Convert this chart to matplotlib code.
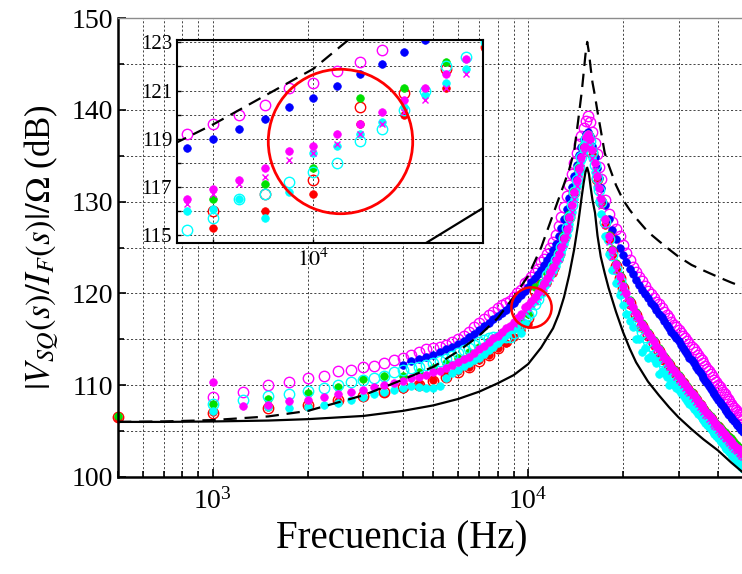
import numpy as np
import matplotlib.pyplot as plt
from matplotlib.ticker import LogLocator, NullFormatter, FixedLocator

nan = np.nan
plt.rcParams['font.family'] = ['Liberation Serif', 'DejaVu Serif']
plt.rcParams['mathtext.fontset'] = 'stix'

# frecuencias de medida (Hz)
freq = ([500]
        + [1000, 1250, 1500, 1750, 2000, 2250, 2500, 2750, 3000, 3250, 3500, 3750,
           4000, 4250, 4500, 4750, 5000, 5250, 5500, 5750, 6000, 6250, 6500, 6750,
           7000, 7250, 7500, 7750, 8000, 8250, 8500]
        + [8750, 9000, 9250, 9500, 9750, 10000, 10250, 10500, 10750, 11000, 11250, 11500, 11750]
        + [12000, 12250, 12500, 12750, 13000, 13250, 13500, 13750, 14000, 14250, 14500,
           14750, 15000, 15250, 15500, 15750, 16000, 16250, 16500, 16750, 17000]
        + [17500, 18000, 18500, 19000, 19500, 20000]
        + [20500, 21000, 21500, 22000, 22500, 23000, 23500, 24000, 24500, 25000,
           25500, 26000, 26500, 27000, 27500, 28000, 28500, 29000, 29500, 30000,
           30500, 31000, 31500, 32000, 32500, 33000, 33500, 34000, 34500, 35000,
           35500, 36000, 36500, 37000, 37500, 38000, 38500, 39000, 39500, 40000,
           40500, 41000, 41500, 42000, 42500, 43000, 43500, 44000, 44500, 45000,
           45500, 46000, 46500, 47000, 47500, 48000])

# medidas (dB)
mag_open = ([nan]
            + [108.7, 109.3, 110.0, 110.4, 110.8, 111.05, 111.5, 111.7, 111.95, 112.1, 112.4, 112.75,
               113.0, 113.3, 113.6, 113.9, 114.0, 114.2, 114.4, 114.7, 115.0, 115.4, 115.8, 116.3,
               116.8, 117.2, 117.6, 118.0, 118.4, 118.7, 119.0]
            + [119.2, 119.6, 120.0, 120.4, 121.1, 121.3, 121.8, 122.2, 122.7, 123.4, 123.8, 124.3, 124.9]
            + [125.6, 126.4, 127.3, 128.3, 129.4, 130.6, 131.8, 133.0, 134.2, 135.3, 136.3,
               137.2, 138.0, 138.8, 139.3, 138.7, 137.6, 136.4, 135.2, 133.8, 132.5]
            + [130.2, 128.7, 127.8, 127.0, 126.2, 125.3]
            + [124.4, 123.6, 122.9, 122.3, 121.8, 121.3, 120.8, 120.3, 119.9, 119.5,
               119.1, 118.8, 118.4, 118.0, 117.6, 117.3, 116.9, 116.6, 116.3, 116.0,
               115.7, 115.4, 115.1, 114.8, 114.5, 114.2, 113.9, 113.6, 113.3, 113.0,
               112.7, 112.4, 112.1, 111.8, 111.5, 111.2, 110.9, 110.6, 110.3, 110.0,
               109.75, 109.5, 109.25, 109.0, 108.75, 108.5, 108.25, 108.0, 107.75, 107.5,
               107.3, 107.1, 106.9, 106.7, 106.5, 106.3])

blue = ([nan]
        + [nan] * 12
        + [112.2, 112.6, 112.8, 113.1, 113.3, 113.6, 113.9, 114.2, 114.5, 114.8, 115.2, 115.6,
           116.0, 116.4, 116.8, 117.2, 117.5, 117.9, 118.2]
        + [118.6, 119.0, 119.4, 119.8, 120.3, 120.7, 121.2, 121.7, 122.1, 122.6, 123.1, 123.6, 124.1]
        + [124.7, 125.4, 126.2, 127.1, 128.1, 129.2, 130.4, 131.6, 132.8, 134.0, 135.1,
           136.0, 136.8, 137.4, 137.6, 137.1, 136.1, 134.9, 133.7, 132.6, 131.5]
        + [129.6, 128.1, 126.9, 125.9, 125.0, 124.2]
        + [123.4, 122.7, 122.1, 121.5, 120.9, 120.4, 119.9, 119.5, 119.0, 118.6,
           118.2, 117.8, 117.4, 117.0, 116.6, 116.2, 115.8, 115.5, 115.1, 114.8,
           114.4, 114.1, 113.7, 113.4, 113.0, 112.7, 112.4, 112.0, 111.7, 111.4,
           111.1, 110.8, 110.5, 110.2, 109.9, 109.6, 109.3, 109.0, 108.7, 108.4,
           108.2, 107.9, 107.7, 107.4, 107.2, 106.9, 106.7, 106.5, 106.3, 106.1,
           105.9, 105.7, 105.5, 105.3, 105.1, 104.9])

mag_fill = ([nan]
            + [110.4, 107.7, 107.8, 108.3, 108.4, 108.7, 109.0, 109.3, 109.5, 109.8, 110.0, 110.2,
               110.5, 110.75, 110.9, 111.1, 111.4, 111.6, 111.9, 112.2, 112.5, 112.8, 113.1, 113.5,
               113.9, 114.3, 114.7, 115.1, 115.4, 115.8, 116.2]
            + [116.5, 116.9, 117.3, 117.8, 118.5, 118.7, 119.2, 119.6, 120.1, 120.6, 121.1, 121.7, 122.3]
            + [122.9, 123.6, 124.3, 125.1, 126.0, 127.0, 128.3, 129.6, 131.0, 132.4, 133.7,
               134.9, 136.0, 137.0, 137.4, 136.8, 135.6, 134.2, 132.8, 131.5, 130.3]
            + [128.1, 126.3, 124.7, 123.2, 121.9, 120.8]
            + [120.0, 119.2, 118.5, 117.9, 117.3, 116.7, 116.2, 115.7, 115.2, 114.8,
               114.3, 113.9, 113.5, 113.1, 112.7, 112.4, 112.0, 111.7, 111.3, 111.0,
               110.7, 110.4, 110.1, 109.8, 109.5, 109.2, 108.9, 108.6, 108.3, 108.0,
               107.8, 107.5, 107.2, 107.0, 106.7, 106.5, 106.2, 106.0, 105.8, 105.5,
               105.3, 105.1, 104.9, 104.7, 104.5, 104.3, 104.1, 103.9, 103.7, 103.5,
               103.3, 103.2, 103.0, 102.9, 102.7, 102.6])

mag_x = ([nan]
         + [nan] * 31
         + [116.3, 116.7, 117.1, 117.4, 118.1, 118.4, 118.8, 119.2, 119.6, 120.1, 120.6, 121.1, 121.7]
         + [122.3, 123.0, 123.7, 124.5, 125.4, 126.4, 127.6, 128.9, 130.3, 131.7, 133.0,
            134.2, 135.3, 136.2, 136.6, 136.0, 134.8, 133.4, 132.0, 130.7, 129.5]
         + [127.4, 125.6, 124.0, 122.6, 121.3, 120.2]
         + [119.5, 118.7, 118.0, 117.4, 116.8, 116.3, 115.8, 115.3, 114.8, 114.4,
            113.9, 113.5, 113.1, 112.7, 112.3, 112.0, 111.6, 111.3, 110.9, 110.6,
            110.3, 110.0, 109.7, 109.4, 109.1, 108.8, 108.5, 108.2, 107.9, 107.6,
            107.4, 107.1, 106.8, 106.6, 106.3, 106.1, 105.8, 105.6, 105.4, 105.1,
            104.9, 104.7, 104.5, 104.3, 104.1, 103.9, 103.7, 103.5, 103.3, 103.1,
            102.9, 102.8, 102.6, 102.5, 102.3, 102.2])

cyan_fill = ([nan]
             + [107.2, nan, 107.6, 107.5, 107.6, 107.8, 108.1, 108.4, 108.7, 109.0, 109.3, 109.5,
                109.7, 109.9, 109.8, 109.7, 109.7, 109.9, 110.8, 111.3, 111.7, 112.1, 112.4, 112.7,
                113.0, 113.4, 113.8, 114.2, 114.6, 115.0, 115.5]
             + [116.0, 116.1, 116.5, 115.7, 116.8, 118.4, 118.7, 119.2, 119.7, 120.3, 120.8, 121.3, 121.9]
             + [122.4, 123.0, 123.7, 124.5, 125.4, 126.4, 127.6, 128.9, 130.3, 131.7, 133.1,
                134.4, 135.6, 136.6, 137.0, 136.2, 134.8, 133.2, 131.6, 130.1, 128.7]
             + [126.3, 124.3, 122.6, 121.1, 119.8, 118.7]
             + [117.8, 117.0, 116.3, 115.0, 115.0, 113.6, 114.0, 113.0, 113.2, 112.8,
                112.4, 111.2, 111.6, 111.3, 110.9, 110.0, 110.3, 110.0, 109.7, 109.5,
                109.2, 108.9, 108.6, 108.3, 108.0, 107.7, 107.4, 107.2, 106.9, 106.7,
                106.4, 106.2, 105.9, 105.7, 105.4, 105.2, 105.0, 104.7, 104.5, 104.3,
                104.0, 103.8, 103.6, 103.3, 103.1, 102.9, 102.7, 102.5, 102.3, 102.1,
                101.9, 101.7, 101.5, 101.3, 101.1, 100.9])

cyan_open = ([nan]
             + [107.9, 108.4, 108.8, 109.0, 109.4, 109.65, 110.0, 110.4, 110.6, 110.75, 111.0, 111.4,
                111.65, 111.85, 112.0, 112.2, 112.4, 112.6, 112.9, 113.2, 113.5, 113.8, 114.1, 114.4,
                114.7, 114.9, 115.1, 115.2, 115.3, 115.4, 115.3]
             + [115.2, 115.7, 116.5, 116.7, 117.2, 117.6, 118.0, 118.9, 119.4, 120.2, 121.0, 122.0, 122.4]
             + [123.0, 123.6, 124.3, 125.1, 126.0, 127.1, 128.3, 129.6, 131.0, 132.4, 133.7,
                134.9, 135.9, 136.8, 137.2, 136.6, 135.4, 134.0, 132.6, 131.3, 130.0]
             + [127.8, 125.9, 124.2, 122.7, 121.4, 120.2]
             + [119.3, 118.5, 117.7, 117.0, 116.4, 115.8, 115.3, 114.8, 114.3, 113.9,
                113.4, 113.0, 112.6, 112.2, 111.8, 111.5, 111.1, 110.8, 110.4, 110.1,
                109.8, 109.5, 109.2, 108.9, 108.6, 108.3, 108.0, 107.7, 107.4, 107.1,
                106.9, 106.6, 106.3, 106.1, 105.8, 105.6, 105.3, 105.1, 104.9, 104.6,
                104.4, 104.2, 104.0, 103.8, 103.6, 103.4, 103.2, 103.0, 102.8, 102.6,
                102.4, 102.2, 102.0, 101.8, 101.7, 101.5])

green = ([106.6]
         + [107.9, nan, 108.5, nan, 109.2, nan, 109.8, nan, 110.7, nan, 111.0, nan,
            111.0, nan, 111.4, nan, 111.9, nan, 112.4, nan, 113.0, nan, 113.6, nan,
            114.2, nan, 114.8, nan, 115.4, nan, 116.0]
         + [nan, 116.5, nan, 117.1, nan, 117.8, nan, 120.7, nan, 121.1, nan, 122.2, nan]
         + [123.1, nan, 124.6, nan, 126.4, nan, 128.6, nan, 131.3, nan, 134.0,
            nan, 136.3, nan, 137.4, nan, 135.6, nan, 132.8, nan, 130.3]
         + [128.1, 126.4, 124.8, 123.3, 122.0, 120.9]
         + [nan, 119.3, nan, 118.0, nan, 116.8, nan, 115.8, nan, 114.9,
            nan, 114.0, nan, 113.2, nan, 112.5, nan, 111.8, nan, 111.1,
            nan, 110.5, nan, 109.9, nan, 109.3, nan, 108.7, nan, 108.1,
            nan, 107.6, nan, 107.1, nan, 106.6, nan, 106.1, nan, 105.7,
            nan, 105.3, nan, 104.9, nan, 104.5, nan, 104.2, nan, 103.8,
            nan, 103.5, nan, 103.2, nan, 102.9])

red_open = ([106.5]
            + [107.0, nan, 107.5, nan, 107.8, nan, 108.4, nan, 108.8, nan, 109.3, nan,
               109.85, nan, 110.0, nan, 110.5, nan, 110.9, nan, 111.4, nan, 112.0, nan,
               112.6, nan, 113.3, nan, 114.0, nan, 114.8]
            + [nan, 116.0, nan, 116.7, nan, 117.3, nan, 120.3, nan, 120.9, nan, 121.9, nan]
            + [122.8, nan, 124.3, nan, 126.1, nan, 128.3, nan, 131.0, nan, 133.7,
               nan, 136.0, nan, 137.1, nan, 135.3, nan, 132.5, nan, 130.0]
            + [127.8, 126.1, 124.5, 123.0, 121.7, 120.6]
            + [nan, 119.0, nan, 117.7, nan, 116.5, nan, 115.5, nan, 114.6,
               nan, 113.7, nan, 112.9, nan, 112.2, nan, 111.5, nan, 110.8,
               nan, 110.2, nan, 109.6, nan, 109.0, nan, 108.4, nan, 107.8,
               nan, 107.3, nan, 106.8, nan, 106.3, nan, 105.8, nan, 105.4,
               nan, 105.0, nan, 104.6, nan, 104.2, nan, 103.9, nan, 103.5,
               nan, 103.2, nan, 102.9, nan, 102.6])

red_fill = ([106.4]
            + [107.1, nan, 107.6, nan, 107.7, nan, 108.3, nan, 108.7, nan, 109.2, nan,
               109.6, nan, 110.1, nan, 110.6, nan, 111.1, nan, 111.6, nan, 112.0, nan,
               112.7, nan, 113.3, nan, 114.0, nan, 114.6]
            + [nan, 115.3, nan, 116.0, nan, 116.7, nan, 119.6, nan, 120.0, nan, 121.1, nan]
            + [122.2, nan, 123.8, nan, 125.7, nan, 128.0, nan, 130.7, nan, 133.4,
               nan, 135.8, nan, 137.0, nan, 135.1, nan, 132.2, nan, 129.7]
            + [127.5, 125.8, 124.2, 122.7, 121.4, 120.3]
            + [nan, 118.7, nan, 117.4, nan, 116.2, nan, 115.2, nan, 114.3,
               nan, 113.4, nan, 112.6, nan, 111.9, nan, 111.2, nan, 110.5,
               nan, 109.9, nan, 109.3, nan, 108.7, nan, 108.1, nan, 107.5,
               nan, 107.0, nan, 106.5, nan, 106.0, nan, 105.5, nan, 105.1,
               nan, 104.7, nan, 104.3, nan, 103.9, nan, 103.6, nan, 103.2,
               nan, 102.9, nan, 102.6, nan, 102.3])

# modelos teoricos
freq_mod = [500, 700, 1000, 1500, 2000, 3000, 4000, 5000, 6000, 7000, 8000, 9000, 10000,
            11000, 12000, 12500, 13000, 13500, 14000, 14400, 14800, 15000, 15200, 15400,
            15600, 15800, 16000, 16300, 16600, 17000, 17500, 18000, 19000, 20000, 21000,
            22000, 24000, 26000, 28000, 30000, 33000, 36000, 40000, 44000, 48000]
solid = [106.0, 106.0, 106.05, 106.15, 106.3, 106.65, 107.2, 107.8, 108.5, 109.3, 110.2,
         111.1, 112.3, 114.1, 116.2, 117.7, 119.6, 122.0, 124.8, 127.5, 130.6, 132.0, 133.2,
         133.7, 133.0, 131.5, 130.2, 128.8, 126.3, 124.0, 122.2, 120.6, 118.0, 115.8, 114.0,
         112.5, 110.4, 108.9, 107.6, 106.5, 105.2, 104.1, 102.9, 101.6, 100.5]
dashed = [106.0, 106.05, 106.2, 106.6, 107.2, 108.9, 110.6, 112.0, 113.7, 115.4, 117.3,
          119.6, 121.9, 125.0, 128.6, 130.3, 131.9, 133.5, 135.5, 138.7, 142.0, 144.0, 146.0,
          147.4, 146.2, 144.5, 143.0, 141.5, 139.8, 137.8, 135.3, 134.0, 131.8, 130.2, 129.1,
          128.2, 126.7, 125.7, 124.8, 124.0, 123.1, 122.5, 121.8, 121.2, 120.7]

# zonas marcadas (circulo rojo)
circ_main = (10250, 118.5)
circ_zoom = (10280, 118.9)

series = [
    (mag_open, dict(marker='o', ms=7.5, mfc='none', mec='magenta', mew=1.0)),
    (blue, dict(marker='o', ms=5.5, mfc='blue', mec='blue', mew=0.5)),
    (red_open, dict(marker='o', ms=7.5, mfc='none', mec='red', mew=1.0)),
    (red_fill, dict(marker='o', ms=5.5, mfc='red', mec='red', mew=0.5)),
    (green, dict(marker='o', ms=5.5, mfc='#00e000', mec='#00e000', mew=0.5)),
    (cyan_open, dict(marker='o', ms=7.5, mfc='none', mec='cyan', mew=1.0)),
    (cyan_fill, dict(marker='o', ms=5.5, mfc='cyan', mec='cyan', mew=0.5)),
    (mag_fill, dict(marker='o', ms=5.5, mfc='magenta', mec='magenta', mew=0.5)),
    (mag_x, dict(marker='x', ms=5, mec='magenta', mew=1.0)),
]

grid_kw = dict(color='k', linestyle=(0, (2.5, 2.5)), linewidth=0.6, alpha=0.85)


def draw(ax, clip=True):
    for vals, kw in series:
        ax.plot(freq, vals, linestyle='none', clip_on=clip, **kw)
    ax.plot(freq_mod, solid, color='k', lw=1.6)
    ax.plot(freq_mod, dashed, color='k', lw=1.6, dashes=(6, 3.5))


fig = plt.figure(figsize=(7.42, 5.74), dpi=100)
ax = fig.add_axes([0.159, 0.169, 0.841, 0.7996])
draw(ax, clip=False)
ax.plot(*circ_main, marker='o', ms=29, mfc='none', mec='red', mew=1.8)
ax.set_xscale('log')
ax.set_xlim(500, 47700)
ax.set_ylim(100, 150)
ax.yaxis.set_major_locator(FixedLocator([100, 110, 120, 130, 140, 150]))
ax.yaxis.set_minor_locator(FixedLocator([105, 115, 125, 135, 145]))
ax.xaxis.set_minor_locator(LogLocator(base=10, subs=range(2, 10)))
ax.xaxis.set_minor_formatter(NullFormatter())
ax.grid(True, which='both', **grid_kw)
ax.tick_params(which='both', direction='in', labelsize=20, width=1.2)
ax.tick_params(which='major', length=6)
ax.tick_params(which='minor', length=4)
ax.tick_params(axis='x', pad=8)
ax.spines['right'].set_visible(False)
ax.spines['top'].set_color('0.55')
ax.spines['top'].set_linewidth(1.0)
for s in ('left', 'bottom'):
    ax.spines[s].set_linewidth(1.8)
ax.set_xlabel('Frecuencia (Hz)', fontsize=28)
ax.xaxis.set_label_coords(0.455, -0.095)
ax.set_ylabel(r'$|V_{SQ}(s)/I_F(s)|/\Omega$ (dB)', fontsize=25, labelpad=8)

# ampliacion
axi = fig.add_axes([0.2385, 0.5767, 0.4124, 0.3537])
axi.set_facecolor('white')
draw(axi)
axi.plot(*circ_zoom, marker='o', ms=104, mfc='none', mec='red', mew=2.0)
axi.set_xscale('log')
axi.set_xlim(8660, 11960)
axi.set_ylim(114.67, 123.1)
axi.yaxis.set_major_locator(FixedLocator([115, 117, 119, 121, 123]))
axi.yaxis.set_minor_locator(FixedLocator([116, 118, 120, 122]))
axi.xaxis.set_major_locator(FixedLocator([10000]))
axi.xaxis.set_major_formatter(plt.FuncFormatter(lambda v, p: r'$10^{4}$'))
axi.xaxis.set_minor_locator(FixedLocator([9000]))
axi.xaxis.set_minor_formatter(NullFormatter())
axi.grid(True, which='both', **grid_kw)
axi.tick_params(which='both', direction='in', labelsize=15, width=1.0, length=3)
axi.tick_params(axis='x', pad=4, labelsize=16)
for s in axi.spines.values():
    s.set_linewidth(1.5)

fig.savefig('out.png', dpi=100)
